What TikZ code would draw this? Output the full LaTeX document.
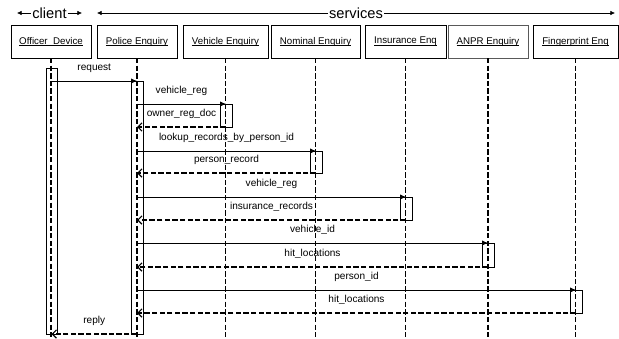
\documentclass[tikz,border=0pt]{standalone}
\usepackage{fontspec}
\setmainfont{Liberation Sans}
\usepackage{tikz}
\usetikzlibrary{arrows.meta, positioning, calc}

\newcommand{\ulab}[1]{\setbox0\hbox{#1}\rlap{\rule[-1.7pt]{\wd0}{0.7pt}}\box0}

\begin{document}
\begin{tikzpicture}[
    x=0.03cm, y=-0.03cm,
    actor/.style={draw, line width=0.6pt, minimum height=0.99cm, inner sep=0pt, outer sep=0pt, font=\fontsize{8.3}{10}\selectfont},
    act/.style={draw, line width=0.6pt, fill=white, minimum width=0.36cm, inner sep=0pt, outer sep=0pt, anchor=north},
    lifeline/.style={dash pattern=on 4.5pt off 2pt, line width=1pt},
    call/.style={line width=0.6pt, -{Latex[length=5pt,width=4.5pt]}},
    ret/.style={dash pattern=on 4.5pt off 2pt, line width=1pt, -{Straight Barb[length=3.5pt,width=7pt]}},
    msg/.style={midway, yshift=0.39cm, font=\fontsize{8.6}{10}\selectfont, inner sep=0pt},
    hdr/.style={line width=0.6pt, {Latex[length=4pt,width=4pt]}-{Latex[length=4pt,width=4pt]}},
    hdrtext/.style={midway, fill=white, inner sep=0.8pt, font=\fontsize{12.5}{14}\selectfont}
]
    \useasboundingbox (0,0) rectangle (619,339);

    % header arrows
    \coordinate (cl-l) at (17,13);
    \coordinate (cl-r) at (82,13);
    \coordinate (sv-l) at (97,13);
    \coordinate (sv-r) at (615,13);
    \draw[hdr] (cl-l) -- (cl-r) node[hdrtext] {client};
    \draw[hdr] (sv-l) -- (sv-r) node[hdrtext] {services};

    % participants
    \node[actor, minimum width=2.4cm] (off) at (51,41.5) {\ulab{Officer\_Device}};
    \node[actor, minimum width=2.4cm] (pol) at (137,41.5) {\ulab{Police Enquiry}};
    \node[actor, minimum width=2.55cm] (veh) at (225.5,41.5) {\ulab{Vehicle Enquiry}};
    \node[actor, minimum width=2.67cm] (nom) at (315.5,41.5) {\ulab{Nominal Enquiry}};
    \node[actor, minimum width=2.43cm] (ins) at (405.5,41.5) {\ulab{Insurance Enq}};
    \node[actor, minimum width=2.4cm, draw=black!65] (anpr) at (488,41.5) {\ulab{ANPR Enquiry}};
    \node[actor, minimum width=2.55cm] (fp) at (575.5,41.5) {\ulab{Fingerprint Enq}};

    % activation bars
    \node[act, minimum width=0.33cm, minimum height=7.98cm] (off-act) at (51.5,68) {};
    \node[act, minimum height=7.59cm] (pol-act) at (137,81) {};
    \node[act, minimum height=0.69cm] (veh-act) at (226,104) {};
    \node[act, minimum height=0.66cm] (nom-act) at (316,151) {};
    \node[act, minimum height=0.69cm] (ins-act) at (406,197) {};
    \node[act, minimum height=0.72cm] (anpr-act) at (488,243) {};
    \node[act, minimum height=0.69cm] (fp-act) at (576,290) {};

    % lifelines
    \coordinate (bottom) at (0,337);
    \foreach \p in {off,pol,veh,nom,ins,anpr,fp}
        \draw[lifeline] (\p.south) -- (\p |- bottom);

    % messages
    \draw[call] (pol-act.north -| off-act) -- (pol-act.north) node[msg] {request};
    \draw[call] (veh-act.north -| pol-act) -- (veh-act.north) node[msg] {vehicle\_reg};
    \draw[ret] (veh-act.south) -- (veh-act.south -| pol-act) node[msg] {owner\_reg\_doc};
    \draw[call] (nom-act.north -| pol-act) -- (nom-act.north) node[msg] {lookup\_records\_by\_person\_id};
    \draw[ret] (nom-act.south) -- (nom-act.south -| pol-act) node[msg] {person\_record};
    \draw[call] (ins-act.north -| pol-act) -- (ins-act.north) node[msg] {vehicle\_reg};
    \draw[ret] (ins-act.south) -- (ins-act.south -| pol-act) node[msg] {insurance\_records};
    \draw[call] (anpr-act.north -| pol-act) -- (anpr-act.north) node[msg] {vehicle\_id};
    \draw[ret] (anpr-act.south) -- (anpr-act.south -| pol-act) node[msg] {hit\_locations};
    \draw[call] (fp-act.north -| pol-act) -- (fp-act.north) node[msg] {person\_id};
    \draw[ret] (fp-act.south) -- (fp-act.south -| pol-act) node[msg] {hit\_locations};
    \draw[ret] (pol-act.south) -- (pol-act.south -| off-act) node[msg] {reply};
\end{tikzpicture}
\end{document}
